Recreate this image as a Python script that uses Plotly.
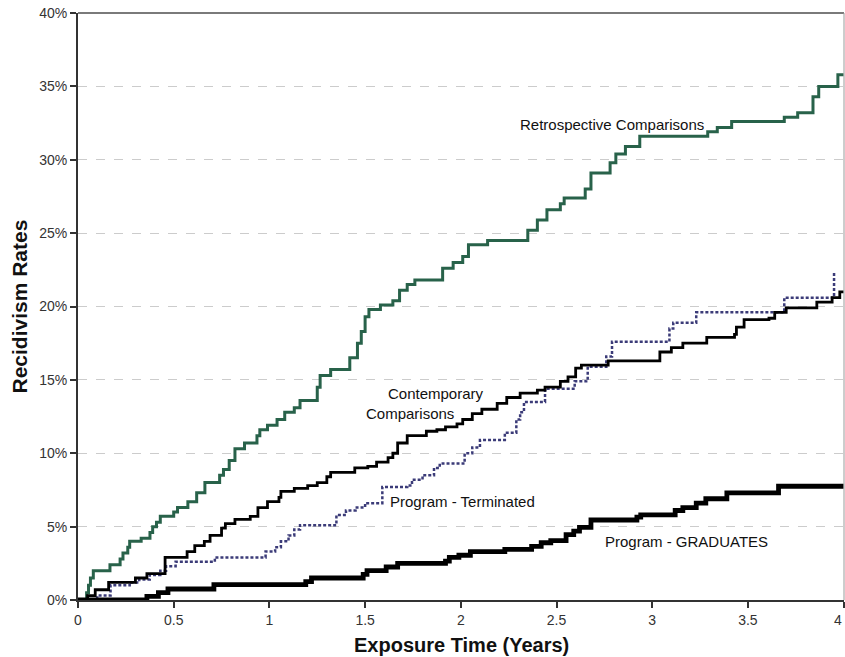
import plotly.graph_objects as go

# ---- data (years, recidivism %) ----
retro_x = [0, 0.045, 0.055, 0.065, 0.08, 0.167, 0.22, 0.235, 0.26, 0.27, 0.33, 0.376, 0.39, 0.41, 0.43, 0.50, 0.52,
           0.574, 0.62, 0.663, 0.74, 0.76, 0.79, 0.82, 0.87, 0.935, 0.95, 0.99, 1.04, 1.08, 1.13, 1.16, 1.25, 1.265,
           1.32, 1.42, 1.46, 1.48, 1.50, 1.52, 1.58, 1.645, 1.68, 1.72, 1.76, 1.905, 1.96, 2.01, 2.04, 2.14, 2.35,
           2.40, 2.45, 2.52, 2.54, 2.65, 2.68, 2.78, 2.81, 2.86, 2.935, 3.29, 3.34, 3.415, 3.69, 3.76, 3.84, 3.87,
           3.97, 4.0]
retro_y = [0, 0.5, 1.0, 1.5, 2.0, 2.4, 2.8, 3.2, 3.6, 4.0, 4.2, 4.6, 5.0, 5.3, 5.7, 6.0, 6.3,
           6.7, 7.3, 8.0, 8.5, 8.9, 9.5, 10.3, 10.7, 11.2, 11.6, 11.9, 12.3, 12.8, 13.1, 13.6, 14.5, 15.3,
           15.7, 16.5, 17.5, 18.3, 19.3, 19.8, 20.1, 20.4, 21.1, 21.5, 21.8, 22.6, 23.0, 23.4, 24.2, 24.5, 25.2,
           25.9, 26.6, 27.0, 27.4, 28.0, 29.1, 29.8, 30.4, 30.9, 31.6, 31.9, 32.2, 32.6, 32.9, 33.2, 34.3, 35.0,
           35.8, 35.8]

contemp_x = [0, 0.05, 0.09, 0.16, 0.30, 0.36, 0.455, 0.57, 0.61, 0.66, 0.69, 0.75, 0.77, 0.82, 0.90, 0.94, 0.99,
             1.05, 1.06, 1.13, 1.20, 1.25, 1.30, 1.32, 1.446, 1.514, 1.56, 1.62, 1.645, 1.67, 1.72, 1.82, 1.875,
             1.92, 1.98, 2.01, 2.06, 2.11, 2.19, 2.24, 2.31, 2.40, 2.44, 2.52, 2.56, 2.60, 2.63, 2.77, 3.04, 3.10,
             3.16, 3.285, 3.43, 3.44, 3.48, 3.61, 3.64, 3.70, 3.86, 3.94, 3.98, 4.0]
contemp_y = [0, 0.3, 0.7, 1.2, 1.5, 1.8, 2.9, 3.3, 3.7, 4.0, 4.4, 4.9, 5.2, 5.5, 5.7, 6.3, 6.7,
             7.0, 7.4, 7.6, 7.8, 8.0, 8.4, 8.7, 9.0, 9.1, 9.4, 9.7, 10.0, 10.7, 11.2, 11.5, 11.6,
             11.8, 12.0, 12.3, 12.7, 13.0, 13.4, 13.8, 14.1, 14.3, 14.5, 14.9, 15.2, 15.8, 16.0, 16.3, 16.9, 17.2,
             17.5, 17.9, 18.1, 18.6, 19.1, 19.2, 19.6, 19.9, 20.3, 20.6, 21.0, 21.0]

term_x = [0, 0.10, 0.17, 0.27, 0.32, 0.375, 0.43, 0.46, 0.51, 0.715, 0.98, 1.03, 1.06, 1.10, 1.13, 1.16, 1.35,
          1.40, 1.45, 1.50, 1.59, 1.72, 1.745, 1.80, 1.86, 1.89, 2.02, 2.06, 2.10, 2.23, 2.29, 2.31, 2.33, 2.44,
          2.595, 2.655, 2.663, 2.76, 2.79, 3.09, 3.11, 3.23, 3.69, 3.95]
term_y = [0, 0.3, 1.0, 1.2, 1.4, 1.7, 2.0, 2.3, 2.6, 2.9, 3.3, 3.6, 4.0, 4.4, 4.8, 5.1, 5.8,
          6.1, 6.3, 6.6, 7.7, 7.8, 8.2, 8.5, 9.0, 9.3, 10.0, 10.4, 10.9, 11.4, 12.3, 12.8, 13.5, 14.4,
          14.9, 15.0, 15.9, 16.6, 17.6, 18.5, 18.9, 19.6, 20.6, 22.3]

grad_x = [0, 0.36, 0.42, 0.47, 0.71, 1.19, 1.22, 1.49, 1.51, 1.61, 1.67, 1.92, 1.94, 1.99, 2.05, 2.23, 2.37,
          2.42, 2.47, 2.55, 2.59, 2.62, 2.68, 2.92, 2.94, 3.12, 3.16, 3.23, 3.28, 3.39, 3.66, 4.0]
grad_y = [0, 0.25, 0.5, 0.75, 1.05, 1.25, 1.5, 1.75, 2.0, 2.25, 2.5, 2.65, 2.9, 3.05, 3.3, 3.45, 3.65,
          3.9, 4.05, 4.45, 4.7, 4.95, 5.45, 5.65, 5.8, 6.1, 6.3, 6.6, 6.9, 7.3, 7.75, 7.75]

x_ticks = [0, 0.5, 1, 1.5, 2, 2.5, 3, 3.5, 4]
y_ticks = [0, 5, 10, 15, 20, 25, 30, 35, 40]

labels = [
    ("Retrospective Comparisons", 2.79, 32.4),
    ("Contemporary", 1.872, 14.1),
    ("Comparisons", 1.736, 12.74),
    ("Program - Terminated", 2.008, 6.68),
    ("Program - GRADUATES", 3.18, 3.97),
]

FONT = "Liberation Sans, Arial, sans-serif"
TICKFONT = dict(family=FONT, size=14, color="#333333")

fig = go.Figure()
fig.add_trace(go.Scatter(x=retro_x, y=retro_y, mode="lines", line=dict(color="#28624a", width=3, shape="hv"),
                         name="Retrospective Comparisons"))
fig.add_trace(go.Scatter(x=term_x, y=term_y, mode="lines",
                         line=dict(color="#3b3b78", width=2.5, shape="hv", dash="3px,2px"),
                         name="Program - Terminated"))
fig.add_trace(go.Scatter(x=contemp_x, y=contemp_y, mode="lines", line=dict(color="#000000", width=2.8, shape="hv"),
                         name="Contemporary Comparisons"))
fig.add_trace(go.Scatter(x=grad_x, y=grad_y, mode="lines", line=dict(color="#000000", width=4.8, shape="hv"),
                         name="Program - GRADUATES"))

for txt, x, y in labels:
    fig.add_annotation(x=x, y=y, text=txt, showarrow=False, xanchor="center", yanchor="middle",
                       font=dict(family=FONT, size=15, color="#111111"))

# last x tick label sits at the right edge of the page
fig.add_annotation(x=x_ticks[-1], yref="paper", y=-0.034, text=f"{x_ticks[-1]:g}", showarrow=False,
                   xanchor="right", yanchor="middle", font=TICKFONT)

fig.add_annotation(xref="paper", yref="paper", x=0.5, y=-0.0767, text="<b>Exposure Time (Years)</b>",
                   showarrow=False, xanchor="center", yanchor="middle",
                   font=dict(family=FONT, size=20, color="#111111"))
fig.add_annotation(xref="paper", yref="paper", x=-0.077, y=0.5, text="<b>Recidivism Rates</b>",
                   showarrow=False, xanchor="center", yanchor="middle", textangle=-90,
                   font=dict(family=FONT, size=21, color="#111111"))

# frame: top and right borders
fig.add_shape(type="line", xref="paper", yref="paper", x0=0, x1=1, y0=1, y1=1,
              line=dict(color="#7a7a7a", width=2))
fig.add_shape(type="line", xref="paper", yref="paper", x0=1, x1=1, y0=0, y1=1,
              line=dict(color="#9a9a9a", width=1))

fig.update_layout(
    width=845, height=657,
    margin=dict(l=78, r=1, t=13, b=57, autoexpand=False),
    paper_bgcolor="white", plot_bgcolor="white",
    showlegend=False,
    font=dict(family=FONT, color="#222222"),
    xaxis=dict(range=[0, 4.002], tickvals=x_ticks, ticktext=[f"{v:g}" for v in x_ticks], automargin=False,
               showgrid=False, zeroline=False, showline=True, linecolor="#333333", linewidth=2,
               ticks="outside", ticklen=6, tickwidth=1.5, tickcolor="#333333",
               tickfont=TICKFONT),
    yaxis=dict(range=[0, 40], tickvals=y_ticks, ticktext=[f"{v}%" for v in y_ticks], automargin=False,
               showgrid=True, gridcolor="#cccccc", gridwidth=1, griddash="dash",
               zeroline=False, showline=True, linecolor="#333333", linewidth=2,
               ticks="outside", ticklen=6, tickwidth=1.5, tickcolor="#333333",
               tickfont=TICKFONT),
)

fig.write_html("out.html", config={"displayModeBar": False},
               post_script="document.body.style.margin='0';document.body.style.overflow='hidden';")
